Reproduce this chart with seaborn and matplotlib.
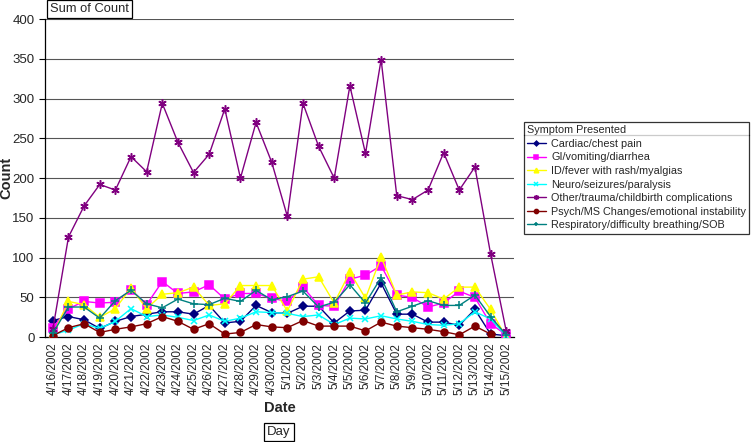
import numpy as np
import pandas as pd
import seaborn as sns
import matplotlib.pyplot as plt
from matplotlib.lines import Line2D

dates = [f"4/{d}/2002" for d in range(16, 31)] + [f"5/{d}/2002" for d in range(1, 16)]

cardiac = [21, 26, 22, 11, 20, 26, 29, 32, 32, 29, 40, 18, 20, 40, 31,
           30, 39, 39, 18, 33, 34, 68, 29, 29, 19, 19, 15, 35, 4, 2]
gi = [12, 36, 45, 43, 44, 60, 41, 70, 55, 57, 66, 48, 55, 55, 49,
      45, 63, 40, 39, 73, 78, 90, 53, 50, 38, 43, 58, 50, 17, 3]
fever = [3, 45, 41, 25, 36, 62, 36, 54, 56, 63, 40, 42, 65, 65, 65,
         33, 73, 76, 43, 82, 49, 101, 53, 57, 56, 48, 63, 63, 35, 0]
neuro = [3, 9, 17, 11, 20, 36, 26, 28, 25, 21, 28, 20, 24, 32, 31,
         30, 26, 28, 16, 24, 23, 27, 23, 20, 16, 15, 17, 32, 23, 2]
other = [10, 126, 165, 192, 185, 227, 208, 294, 245, 207, 230, 287, 200, 270, 220,
         152, 294, 240, 200, 316, 231, 349, 178, 173, 185, 232, 185, 214, 105, 8]
psych = [2, 12, 17, 6, 10, 13, 17, 26, 20, 10, 17, 4, 6, 16, 13,
         12, 21, 14, 14, 14, 8, 19, 14, 12, 10, 7, 3, 14, 4, np.nan]
resp = [5, 38, 38, 24, 46, 59, 42, 37, 48, 42, 41, 49, 45, 59, 47,
        51, 58, 38, 44, 66, 43, 75, 32, 39, 46, 40, 40, 53, 26, 3]

symptoms = ["Cardiac/chest pain", "GI/vomiting/diarrhea", "ID/fever with rash/myalgias",
            "Neuro/seizures/paralysis", "Other/trauma/childbirth complications",
            "Psych/MS Changes/emotional instability", "Respiratory/difficulty breathing/SOB"]
series = [cardiac, gi, fever, neuro, other, psych, resp]

colors = ["#000080", "#FF00FF", "#FFFF00", "#00FFFF", "#800080", "#800000", "#008080"]
markers = ["D", "s", "^", "x", (6, 2, 0), "o", "+"]
msizes = [4, 5.5, 5.5, 5, 6, 5, 6]

rows = []
for name, vals in zip(symptoms, series):
    for i, (d, v) in enumerate(zip(dates, vals)):
        rows.append({"pos": i, "Date": d, "Symptom": name, "Count": v})
df = pd.DataFrame(rows).dropna()

sns.set_style("white")
plt.rcParams["font.family"] = ["Liberation Sans", "DejaVu Sans"]

fig = plt.figure(figsize=(7.53, 4.42), dpi=100)
ax = fig.add_axes([0.0598, 0.237, 0.6228, 0.72])

for name, col, mk, ms in zip(symptoms, colors, markers, msizes):
    sub = df[df["Symptom"] == name]
    sns.lineplot(data=sub, x="pos", y="Count", color=col, marker=mk, markersize=ms,
                 markeredgecolor=col, markeredgewidth=1.1, linewidth=1,
                 label=name, ax=ax, zorder=3)

ax.set_xlim(-0.5, len(dates) - 0.5)
ax.set_ylim(0, 400)
ax.set_yticks(range(0, 401, 50))
ax.yaxis.grid(True, color="#555555", linewidth=0.8)
ax.set_axisbelow(True)
ax.set_xticks(range(len(dates)))
ax.set_xticklabels(dates, rotation=90, fontsize=8.5)
ax.set_xticks(np.arange(-0.5, len(dates), 1), minor=True)
ax.tick_params(axis="x", which="major", length=0, pad=4)
ax.tick_params(axis="x", which="minor", length=4, color="black", width=0.8, direction="out")
ax.tick_params(axis="y", length=4, color="black", width=0.8, direction="out", labelsize=9.5, left=True)
for s in ["top", "right"]:
    ax.spines[s].set_visible(False)
for s in ["left", "bottom"]:
    ax.spines[s].set_color("black")
    ax.spines[s].set_linewidth(0.9)

ax.set_xlabel("Date", fontsize=10.5, fontweight="bold", labelpad=4)
ax.set_ylabel("Count", fontsize=10.5, fontweight="bold")
ax.yaxis.set_label_coords(-0.068, 0.5)

handles, labels = ax.get_legend_handles_labels()
ax.get_legend().remove()
leg = fig.legend(handles, labels, title="Symptom Presented", loc="upper left",
                 bbox_to_anchor=(524 / 753, 1 - 122 / 442), fontsize=7.8,
                 title_fontsize=7.8, alignment="left", frameon=True, fancybox=False,
                 edgecolor="black", borderpad=0.3, labelspacing=0.33, markerscale=0.6,
                 handlelength=1.7, handletextpad=0.5, borderaxespad=0)
leg.get_frame().set_linewidth(0.9)
fig.canvas.draw()
bb = leg.get_window_extent()
fig.add_artist(Line2D([bb.x0 / 753, bb.x1 / 753], [1 - 135 / 442, 1 - 135 / 442],
                      color="black", linewidth=0.9))

fig.text(50 / 753, 1 - 9 / 442, "Sum of Count", fontsize=9.3, va="center", ha="left",
         bbox=dict(boxstyle="square,pad=0.25", facecolor="white", edgecolor="black", linewidth=0.9))
fig.text(279 / 753, 1 - 432 / 442, "Day", fontsize=9.5, va="center", ha="center",
         bbox=dict(boxstyle="square,pad=0.25", facecolor="white", edgecolor="black", linewidth=0.9))

fig.savefig("out.png", dpi=100)
